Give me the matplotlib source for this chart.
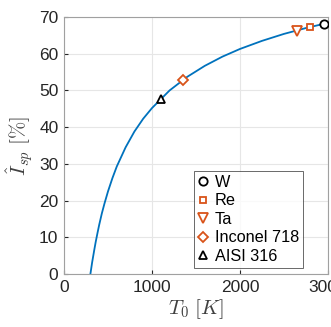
import numpy as np
import matplotlib.pyplot as plt

plt.rcParams['font.family'] = ['Liberation Sans', 'DejaVu Sans']
plt.rcParams['mathtext.fontset'] = 'cm'

# specific impulse curve vs. stagnation temperature
T0 = [300, 305, 310, 320, 330, 345, 360, 380, 400, 430, 460, 500, 550, 600,
      700, 800, 900, 1000, 1200, 1400, 1600, 1800, 2000, 2250, 2500, 2750, 3000]
Isp = [0.0, 0.8, 1.6, 3.2, 4.6, 6.7, 8.7, 11.1, 13.4, 16.5, 19.2, 22.5, 26.1, 29.3,
       34.5, 38.8, 42.3, 45.2, 50.0, 53.7, 56.7, 59.2, 61.3, 63.5, 65.4, 67.0, 68.4]

materials = ['W', 'Re', 'Ta', 'Inconel 718', 'AISI 316']
mat_T0 = [2960, 2800, 2650, 1350, 1100]
mat_Isp = [68.2, 67.3, 66.3, 52.8, 47.7]
mat_marker = ['o', 's', 'v', 'D', '^']
mat_color = ['black', '#D95319', '#D95319', '#D95319', 'black']
mat_size = [6, 4.5, 6.5, 5, 6]

fig = plt.figure(figsize=(3.31, 3.27), dpi=100)
ax = fig.add_axes([64/331, 1 - 274/327, 264/331, 257/327])

ax.plot(T0, Isp, color='#0072BD', lw=1.3)
for name, t, v, m, c, s in zip(materials, mat_T0, mat_Isp, mat_marker, mat_color, mat_size):
    ax.plot(t, v, linestyle='none', marker=m, ms=s, mfc='white', mec=c, mew=1.3,
            label=name, zorder=3)

ax.set_xlim(0, 3000)
ax.set_ylim(0, 70)
ax.set_xticks([0, 1000, 2000, 3000])
ax.set_yticks(range(0, 71, 10))
ax.grid(True, color='#e6e6e6', lw=0.8)
ax.set_axisbelow(True)
ax.tick_params(direction='in', length=3, labelsize=12.5, colors='#262626', pad=4)
for sp in ax.spines.values():
    sp.set_color('#a0a0a0')
    sp.set_linewidth(0.8)

ax.set_xlabel(r'$T_0\ [K]$', fontsize=15, color='#404040', labelpad=2)
ax.set_ylabel(r'$\hat{I}_{sp}\ [\%]$', fontsize=15, color='#404040', labelpad=3)

leg = ax.legend(loc='lower right', fontsize=11.7, frameon=True, fancybox=False,
                edgecolor='#262626', handlelength=0.6, handletextpad=0.45,
                labelspacing=0.22, borderpad=0.22, borderaxespad=0,
                bbox_to_anchor=(0.905, 0.025))
leg.get_frame().set_linewidth(0.6)

fig.savefig('out.png', dpi=100)
